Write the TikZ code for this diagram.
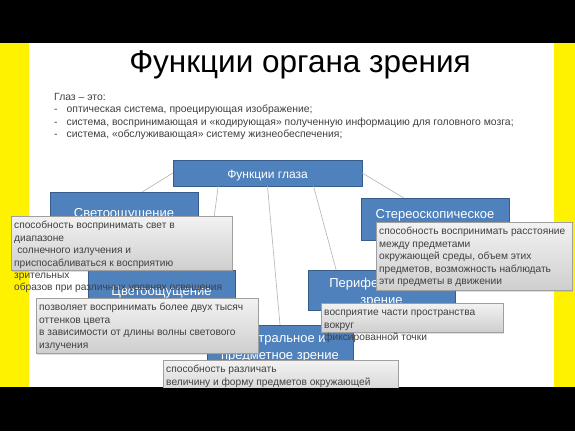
\documentclass[tikz,border=0pt]{standalone}
\usepackage{fontspec}
\setmainfont{Liberation Sans}
\usetikzlibrary{shadows}
\definecolor{slideblue}{RGB}{79,129,189}
\definecolor{slideedge}{RGB}{56,93,138}
\definecolor{slideyellow}{RGB}{255,242,0}
\definecolor{notetext}{RGB}{64,64,64}
\begin{document}
\begin{tikzpicture}
[x=1pt,y=-1pt,
  bluedecorate/.style={shape=rectangle,draw=slideedge,fill=slideblue,text=white,%
    font=\fontsize{13}{17}\selectfont,align=center,inner sep=0pt},%
  notedecorate/.style={shape=rectangle,anchor=north west,draw=gray!75,%
    top color=gray!10,bottom color=gray!38,text=notetext,inner xsep=3pt,inner ysep=4pt,%
    font=\fontsize{10.2}{12.4}\selectfont,drop shadow={opacity=0.25,shadow xshift=1pt,shadow yshift=-1.5pt}},%
  linedecorate/.style={-,draw=gray!60,line width=0.6pt}]
\useasboundingbox (0,0) rectangle (575,431);
%% slide background
\fill[black] (0,0) rectangle (575,431);
\fill[slideyellow] (0,43) rectangle (575,387);
\fill[white] (29,43) rectangle (554,387);
\begin{scope}
\clip (0,43) rectangle (575,387);
%% title and intro
\node (title) at (300,65) {\fontsize{31.5}{36}\selectfont Функции органа зрения};
\node (intro) [anchor=north west,align=left,inner sep=0pt,font=\fontsize{10.4}{12.4}\selectfont,text=notetext] at (54,93)
  {Глаз – это:\\
   -\hspace{9pt}оптическая система, проецирующая изображение;\\
   -\hspace{9pt}система, воспринимающая и «кодирующая» полученную информацию для головного мозга;\\
   -\hspace{9pt}система, «обслуживающая» систему жизнеобеспечения;};
%% blue boxes (\r lifts the first line)
\foreach \nodename/\x/\y/\w/\h/\r/\txt in {%
  sveto/124/213/148/42/11/{Светоощущение},
  tsveto/161.5/291/147/42/11/{Цветоощущение},
  tsentr/280/346/146/42/12/{Центральное и\\предметное зрение},
  perif/381.5/290/147/40/15/{Периферическое\\зрение},
  stereo/435/219/148/42/18/{Стереоскопическое\\зрение}} {
  \node (\nodename) at (\x,\y) [bluedecorate,minimum width=\w pt,minimum height=\h pt] {\rule{0pt}{\r pt}\txt};
}
\node (fglaza) at (267.5,173) [bluedecorate,minimum width=189pt,minimum height=26pt,font=\fontsize{12}{14}\selectfont] {\rule{0pt}{14pt}Функции глаза};
%% connectors
\path
\foreach \startnode/\endnode in {fglaza.west/sveto.49, fglaza.195/tsveto.25, fglaza.south/tsentr.north,
  fglaza.344/perif.156, fglaza.east/stereo.146} {
  (\startnode) edge[linedecorate] (\endnode)
};
%% grey notes
\node (svetonote) at (11,216) [notedecorate] {\parbox[t][46pt][t]{215pt}{\raggedright\strut
  способность воспринимать свет в\\
  диапазоне\\
  \hspace{0.3em}солнечного излучения и\\
  приспосабливаться к восприятию\\
  зрительных\\
  образов при различных уровнях освещения}};
\node (tsvetonote) at (36,298) [notedecorate] {\parbox[t][47pt][t]{216pt}{\raggedright\strut
  позволяет воспринимать более двух тысяч\\
  оттенков цвета\\
  в зависимости от длины волны светового\\
  излучения}};
\node (tsentrnote) at (163,360) [notedecorate] {\parbox[t][32pt][t]{229pt}{\raggedright\strut
  способность различать\\
  величину и форму предметов окружающей}};
\node (stereonote) at (376,222) [notedecorate] {\parbox[t][60pt][t]{190pt}{\raggedright\strut
  способность воспринимать расстояние\\
  между предметами\\
  окружающей среды, объем этих\\
  предметов, возможность наблюдать\\
  эти предметы в движении}};
\node (perifnote) at (321,303) [notedecorate] {\parbox[t][21pt][t]{176pt}{\raggedright\strut
  восприятие части пространства\\
  вокруг\\
  фиксированной точки}};
\end{scope}
\end{tikzpicture}
\end{document}
